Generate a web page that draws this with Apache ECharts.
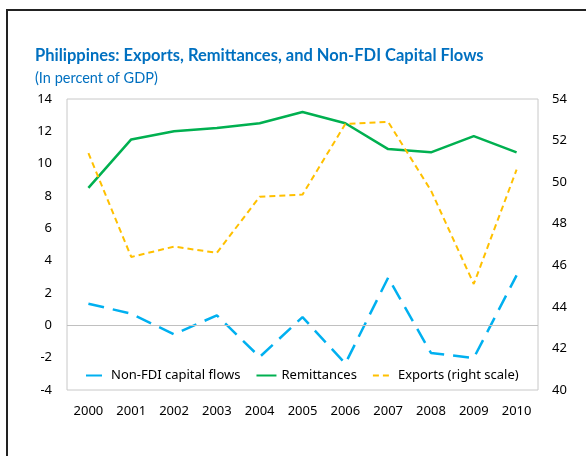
<!DOCTYPE html>
<html><head><meta charset="utf-8">
<script src="https://cdn.jsdelivr.net/npm/echarts@6/dist/echarts.min.js"></script>
<style>html,body{margin:0;padding:0;background:#fff}#c{width:586px;height:456px}</style>
</head><body><div id="c"></div>
<script>
const years = ['2000','2001','2002','2003','2004','2005','2006','2007','2008','2009','2010'];
const nonFdi = [1.34, 0.72, -0.56, 0.62, -1.96, 0.51, -2.37, 2.95, -1.71, -2.02, 3.09];
const remittances = [8.5, 11.5, 12.0, 12.2, 12.5, 13.2, 12.5, 10.9, 10.7, 11.7, 10.7];
const exportsGdp = [51.4, 46.4, 46.9, 46.6, 49.3, 49.4, 52.8, 52.9, 49.6, 45.1, 50.6];
const seriesNames = ['Non-FDI capital flows', 'Remittances', 'Exports (right scale)'];

const font = 'Noto Sans';
const chart = echarts.init(document.getElementById('c'), null, {renderer: 'canvas'});
chart.setOption({
  animation: false,
  textStyle: {fontFamily: font},
  title: {
    text: 'Philippines: Exports, Remittances, and Non-FDI Capital Flows',
    subtext: '(In percent of GDP)',
    left: 30, top: 42,
    itemGap: 7,
    textStyle: {fontFamily: 'Lato', fontSize: 16.5, fontWeight: 'bold', color: '#0070C0'},
    subtextStyle: {fontFamily: 'Lato', fontSize: 14.5, color: '#0070C0'}
  },
  graphic: [
    {type: 'line', shape: {x1: 6, y1: 10, x2: 586, y2: 10}, style: {stroke: '#222', lineWidth: 2}},
    {type: 'line', shape: {x1: 7, y1: 10, x2: 7, y2: 456}, style: {stroke: '#222', lineWidth: 2}}
  ],
  grid: {left: 67, right: 48, top: 99, bottom: 66, show: true, borderColor: '#c8c8c8', borderWidth: 1},
  legend: {
    left: 80, top: 364,
    itemWidth: 20, itemHeight: 10, itemGap: 15,
    itemStyle: {opacity: 0},
    textStyle: {fontFamily: font, fontSize: 13, color: '#000'},
    data: seriesNames
  },
  xAxis: {
    type: 'category', data: years, boundaryGap: true,
    axisLine: {show: false}, axisTick: {show: false},
    axisLabel: {color: '#000', fontSize: 13, margin: 15, fontFamily: font}
  },
  yAxis: [
    {type: 'value', min: -4, max: 14, interval: 2, splitLine: {show: false},
     axisLine: {show: false}, axisTick: {show: false},
     axisLabel: {color: '#000', fontSize: 13, margin: 15, fontFamily: font}},
    {type: 'value', min: 40, max: 54, interval: 2, position: 'right', splitLine: {show: false},
     axisLine: {show: false}, axisTick: {show: false},
     axisLabel: {color: '#000', fontSize: 13, margin: 14, fontFamily: font}}
  ],
  series: [
    {name: seriesNames[0], type: 'line', data: nonFdi, yAxisIndex: 0, symbol: 'none',
     color: '#00B0F0', lineStyle: {width: 2.5, type: [16, 9], color: '#00B0F0'},
     markLine: {silent: true, symbol: 'none', label: {show: false},
       lineStyle: {color: '#c0c0c0', width: 1, type: 'solid'}, data: [{yAxis: 0}]}},
    {name: seriesNames[1], type: 'line', data: remittances, yAxisIndex: 0, symbol: 'none',
     color: '#00B050', lineStyle: {width: 2.5, type: 'solid', color: '#00B050'}},
    {name: seriesNames[2], type: 'line', data: exportsGdp, yAxisIndex: 1, symbol: 'none',
     color: '#FFC000', lineStyle: {width: 2, type: [6, 4], color: '#FFC000'}}
  ]
});
</script></body></html>
